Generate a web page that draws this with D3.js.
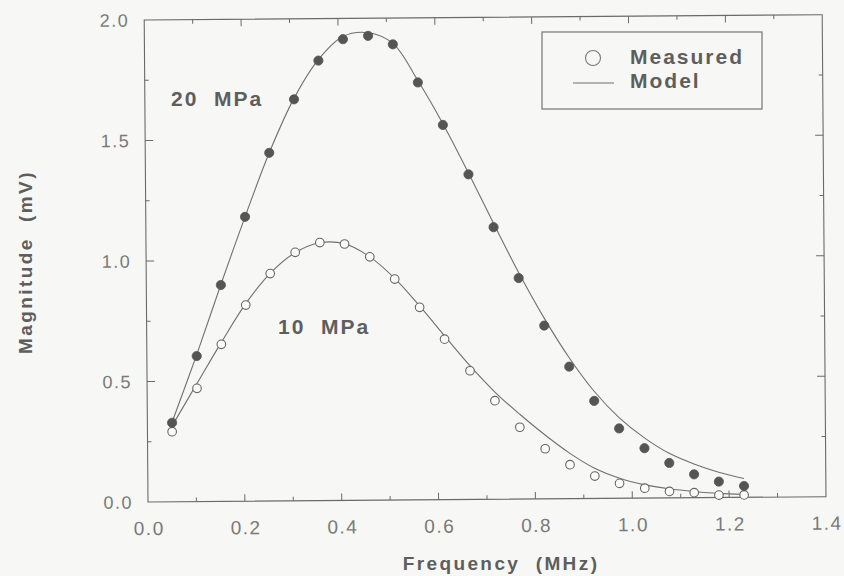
<!DOCTYPE html>
<html>
<head>
<meta charset="utf-8">
<script src="https://cdn.jsdelivr.net/npm/d3@7"></script>
<style>
  html, body { margin: 0; padding: 0; background: #f7f7f5; }
  svg { display: block; font-family: "Liberation Sans", Arial, sans-serif; }
</style>
</head>
<body>
<svg id="chart" width="844" height="576"></svg>
<script>
// Frequency samples (MHz) shared by the measured points and the model curves
const freqMHz = [0.051, 0.103, 0.154, 0.205, 0.256, 0.308, 0.359, 0.410, 0.462, 0.513, 0.564, 0.615,
                 0.667, 0.718, 0.769, 0.821, 0.872, 0.923, 0.974, 1.026, 1.077, 1.128, 1.179, 1.231];

// Measured magnitude (mV)
const measured20 = [0.328, 0.604, 0.898, 1.180, 1.445, 1.666, 1.826, 1.914, 1.927, 1.891, 1.732, 1.555,
                    1.349, 1.129, 0.917, 0.719, 0.548, 0.405, 0.290, 0.207, 0.145, 0.097, 0.066, 0.047];
const measured10 = [0.291, 0.470, 0.652, 0.814, 0.944, 1.031, 1.071, 1.064, 1.010, 0.917, 0.799, 0.666,
                    0.534, 0.409, 0.298, 0.208, 0.141, 0.093, 0.062, 0.041, 0.027, 0.021, 0.010, 0.010];

// Model magnitude (mV)
const model20 = [0.330, 0.610, 0.900, 1.180, 1.445, 1.670, 1.830, 1.925, 1.940, 1.895, 1.740, 1.560,
                 1.355, 1.145, 0.940, 0.750, 0.585, 0.445, 0.335, 0.250, 0.185, 0.140, 0.105, 0.078];
const model10 = [0.315, 0.490, 0.660, 0.820, 0.945, 1.030, 1.070, 1.065, 1.010, 0.920, 0.805, 0.680,
                 0.555, 0.445, 0.352, 0.265, 0.188, 0.125, 0.083, 0.055, 0.038, 0.026, 0.017, 0.012];

const xTicks = [0.0, 0.2, 0.4, 0.6, 0.8, 1.0, 1.2, 1.4];
const yTicks = [0.0, 0.5, 1.0, 1.5, 2.0];
const seriesLabels = ["20  MPa", "10  MPa"];
const legendLabels = ["Measured", "Model"];

const svg = d3.select("#chart");
const ink = "#5e5e5e", lineInk = "#707070", tickInk = "#7a7a7a";

const x = d3.scaleLinear().domain([0, 1.4]).range([148, 826]);
const y = d3.scaleLinear().domain([0, 2]).range([502, 20]);

// the printed frame sits at a slight tilt
const plot = svg.append("g").attr("transform", "rotate(-0.45, 148, 502)");

// frame
plot.append("rect")
  .attr("x", x(0)).attr("y", y(2))
  .attr("width", x(1.4) - x(0)).attr("height", y(0) - y(2))
  .attr("fill", "none").attr("stroke", "#6a6a6a").attr("stroke-width", 1.1);

// inward ticks on all four sides
const xMinor = d3.range(1, 14).map(i => i / 10);
const yMinor = d3.range(1, 8).map(i => i / 4);
function tickStyle(s) { s.attr("stroke", "#6a6a6a").attr("stroke-width", 1); }
xMinor.forEach(v => {
  const len = Math.abs(v * 5 - Math.round(v * 5)) < 1e-6 ? 7 : 4;
  plot.append("line").attr("x1", x(v)).attr("x2", x(v)).attr("y1", y(0)).attr("y2", y(0) - len).call(tickStyle);
  plot.append("line").attr("x1", x(v)).attr("x2", x(v)).attr("y1", y(2)).attr("y2", y(2) + len).call(tickStyle);
});
yMinor.forEach(v => {
  const len = Math.abs(v * 2 - Math.round(v * 2)) < 1e-6 ? 8 : 4;
  plot.append("line").attr("x1", x(0)).attr("x2", x(0) + len).attr("y1", y(v)).attr("y2", y(v)).call(tickStyle);
  plot.append("line").attr("x1", x(1.4)).attr("x2", x(1.4) - len).attr("y1", y(v)).attr("y2", y(v)).call(tickStyle);
});

// tick labels
plot.selectAll(".xl").data(xTicks).enter().append("text")
  .attr("x", d => x(d) + 1).attr("y", y(0) + 33)
  .attr("text-anchor", "middle").attr("font-size", 19).attr("letter-spacing", 1.5)
  .attr("fill", tickInk).text(d => d.toFixed(1));
plot.selectAll(".yl").data(yTicks).enter().append("text")
  .attr("x", x(0) - 15).attr("y", d => y(d) + 6.5)
  .attr("text-anchor", "end").attr("font-size", 18).attr("letter-spacing", 1.5)
  .attr("fill", tickInk).text(d => d.toFixed(1));

// model curves
const curve = d3.line().x(d => x(d[0])).y(d => y(d[1])).curve(d3.curveCatmullRom.alpha(0.5));
[model20, model10].forEach(m => {
  plot.append("path").datum(freqMHz.map((f, i) => [f, m[i]]))
    .attr("d", curve).attr("fill", "none").attr("stroke", lineInk).attr("stroke-width", 1.1);
});

// measured points
plot.selectAll(".p10").data(freqMHz.map((f, i) => [f, measured10[i]])).enter().append("circle")
  .attr("cx", d => x(d[0])).attr("cy", d => y(d[1])).attr("r", 4.3)
  .attr("fill", "#fbfbfa").attr("stroke", "#666").attr("stroke-width", 1.1);
plot.selectAll(".p20").data(freqMHz.map((f, i) => [f, measured20[i]])).enter().append("circle")
  .attr("cx", d => x(d[0])).attr("cy", d => y(d[1])).attr("r", 4.6)
  .attr("fill", "#555").attr("stroke", "#555").attr("stroke-width", 0.8);

// series annotations
const bold = s => s.attr("font-weight", "bold").attr("font-size", 21).attr("letter-spacing", 2).attr("fill", ink);
svg.append("text").attr("x", 171).attr("y", 106).style("white-space", "pre").call(bold).text(seriesLabels[0]);
svg.append("text").attr("x", 278).attr("y", 334).style("white-space", "pre").call(bold).text(seriesLabels[1]);

// legend
const lg = svg.append("g");
lg.append("rect").attr("x", 542).attr("y", 32).attr("width", 220).attr("height", 77)
  .attr("fill", "none").attr("stroke", "#6a6a6a").attr("stroke-width", 1.1);
lg.append("circle").attr("cx", 593).attr("cy", 58).attr("r", 7.5)
  .attr("fill", "none").attr("stroke", "#777").attr("stroke-width", 1.1);
lg.append("line").attr("x1", 573).attr("x2", 614).attr("y1", 83).attr("y2", 83)
  .attr("stroke", lineInk).attr("stroke-width", 1.1);
lg.append("text").attr("x", 630).attr("y", 64).call(bold).text(legendLabels[0]);
lg.append("text").attr("x", 630).attr("y", 88).call(bold).text(legendLabels[1]);

// axis titles
svg.append("text").attr("x", 501).attr("y", 570).attr("text-anchor", "middle")
  .style("white-space", "pre")
  .attr("font-weight", "bold").attr("font-size", 19).attr("letter-spacing", 2.4).attr("fill", ink)
  .text("Frequency  (MHz)");
svg.append("text").attr("transform", "translate(32,262) rotate(-90)").attr("text-anchor", "middle")
  .style("white-space", "pre")
  .attr("font-weight", "bold").attr("font-size", 19).attr("letter-spacing", 2.4).attr("fill", ink)
  .text("Magnitude  (mV)");
</script>
</body>
</html>
